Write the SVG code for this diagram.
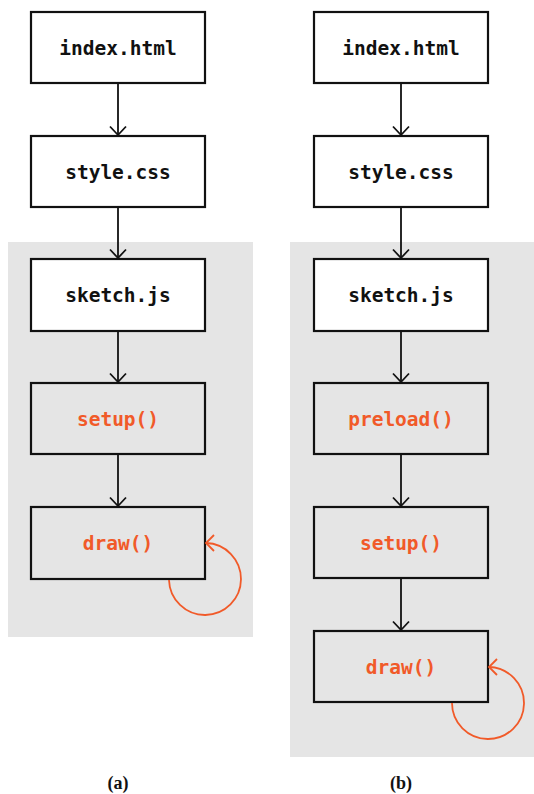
<svg xmlns="http://www.w3.org/2000/svg" width="534" height="794" viewBox="0 0 534 794">
  <style>
    .panel { fill: #e5e5e5; }
    .box { stroke: #111; stroke-width: 2.2; }
    .file { fill: #ffffff; }
    .fn { fill: #e5e5e5; }
    .label { font-family: "DejaVu Sans Mono", "Liberation Mono", monospace; font-weight: bold; font-size: 19.5px; text-anchor: middle; }
    .dark { fill: #111; }
    .accent { fill: #f15a29; }
    .edge { stroke: #111; stroke-width: 1.8; fill: none; }
    .loop { stroke: #f15a29; stroke-width: 1.8; fill: none; }
    .caption { font-family: "Liberation Serif", "DejaVu Serif", serif; font-size: 18px; font-weight: bold; text-anchor: middle; fill: #111; }
  </style>
  <defs>
    <marker id="chev" viewBox="0 0 20 20" refX="10" refY="10" markerWidth="20" markerHeight="20" markerUnits="userSpaceOnUse" orient="auto">
      <path d="M1.5 2 L10 10 L1.5 18" stroke="#111" stroke-width="1.8" fill="none"/>
    </marker>
  </defs>

  <!-- shaded regions -->
  <rect class="panel" x="8" y="242" width="245" height="395"/>
  <rect class="panel" x="290" y="242" width="244" height="515"/>

  <!-- left flow -->
  <g id="a-index"><rect class="box file" x="31" y="12" width="174" height="71"/><text class="label dark" x="118" y="55">index.html</text></g>
  <g id="a-style"><rect class="box file" x="31" y="136" width="174" height="71"/><text class="label dark" x="118" y="179">style.css</text></g>
  <g id="a-sketch"><rect class="box file" x="31" y="259" width="174" height="72"/><text class="label dark" x="118" y="302">sketch.js</text></g>
  <g id="a-setup"><rect class="box fn" x="31" y="383" width="174" height="71"/><text class="label accent" x="118" y="426">setup()</text></g>
  <g id="a-draw"><rect class="box fn" x="31" y="507" width="174" height="72"/><text class="label accent" x="118" y="550">draw()</text></g>

  <!-- right flow -->
  <g id="b-index"><rect class="box file" x="314" y="12" width="174" height="71"/><text class="label dark" x="401" y="55">index.html</text></g>
  <g id="b-style"><rect class="box file" x="314" y="136" width="174" height="71"/><text class="label dark" x="401" y="179">style.css</text></g>
  <g id="b-sketch"><rect class="box file" x="314" y="259" width="174" height="72"/><text class="label dark" x="401" y="302">sketch.js</text></g>
  <g id="b-preload"><rect class="box fn" x="314" y="383" width="174" height="71"/><text class="label accent" x="401" y="426">preload()</text></g>
  <g id="b-setup"><rect class="box fn" x="314" y="507" width="174" height="71"/><text class="label accent" x="401" y="550">setup()</text></g>
  <g id="b-draw"><rect class="box fn" x="314" y="631" width="174" height="71"/><text class="label accent" x="401" y="674">draw()</text></g>

  <!-- connectors -->
  <g id="connectors">
    <path class="edge" d="M118 84 V135" marker-end="url(#chev)"/>
    <path class="edge" d="M118 208 V258" marker-end="url(#chev)"/>
    <path class="edge" d="M118 332 V382" marker-end="url(#chev)"/>
    <path class="edge" d="M118 455 V506" marker-end="url(#chev)"/>
    <path class="loop" d="M169 580 A36 36 0 1 0 206 543"/>
    <path class="loop" d="M214 535 L206 543 L214 551"/>

    <path class="edge" d="M401 84 V135" marker-end="url(#chev)"/>
    <path class="edge" d="M401 208 V258" marker-end="url(#chev)"/>
    <path class="edge" d="M401 332 V382" marker-end="url(#chev)"/>
    <path class="edge" d="M401 455 V506" marker-end="url(#chev)"/>
    <path class="edge" d="M401 579 V630" marker-end="url(#chev)"/>
    <path class="loop" d="M452 703 A36 36 0 1 0 489 667"/>
    <path class="loop" d="M497 659 L489 667 L497 675"/>
  </g>

  <!-- captions -->
  <text class="caption" x="118" y="789">(a)</text>
  <text class="caption" x="401" y="789">(b)</text>
</svg>
